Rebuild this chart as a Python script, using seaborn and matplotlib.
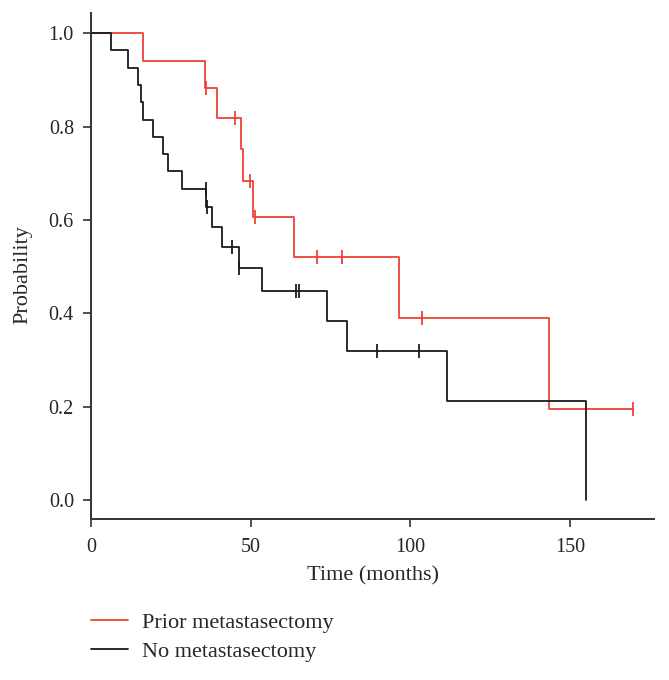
import numpy as np
import pandas as pd
import matplotlib
matplotlib.use("Agg")
import matplotlib.pyplot as plt
import seaborn as sns

# Kaplan-Meier steps (time in months, survival probability)
prior_times = [0, 16.3, 35.6, 39.5, 46.8, 47.7, 50.8, 63.6, 96.5, 143.5, 169.9]
prior_surv = [1.0, 0.941, 0.882, 0.819, 0.751, 0.683, 0.607, 0.520, 0.390, 0.195, 0.195]
prior_censor = [36.0, 45.1, 49.7, 51.3, 70.8, 78.6, 103.6, 169.9]

no_times = [0, 6.2, 11.4, 14.7, 15.6, 16.3, 19.4, 22.6, 24.1, 28.5, 36.0, 37.9,
            41.1, 46.2, 53.6, 73.9, 80.3, 111.5, 155.1]
no_surv = [1.0, 0.963, 0.926, 0.889, 0.852, 0.815, 0.778, 0.741, 0.704, 0.667,
           0.627, 0.585, 0.543, 0.498, 0.448, 0.384, 0.320, 0.213, 0.0]
no_censor = [35.8, 36.2, 44.0, 46.4, 64.1, 65.1, 89.7, 102.7]

groups = ['Prior metastasectomy', 'No metastasectomy']
colors = {'Prior metastasectomy': '#ef4136', 'No metastasectomy': '#1a1a1a'}

df = pd.concat([
    pd.DataFrame({'time': prior_times, 'surv': prior_surv, 'group': groups[0]}),
    pd.DataFrame({'time': no_times, 'surv': no_surv, 'group': groups[1]}),
])

sns.set_style('ticks')
plt.rcParams['font.family'] = ['Liberation Serif', 'DejaVu Serif']

fig = plt.figure(figsize=(6.69, 6.80), dpi=100)
ax = fig.add_axes([0.1365, 0.2368, 0.8411, 0.7442])

sns.lineplot(data=df, x='time', y='surv', hue='group', hue_order=groups,
             palette=colors, drawstyle='steps-post', estimator=None, sort=False,
             linewidth=1.3, ax=ax)


def step_value(times, surv, t):
    idx = np.searchsorted(times, t, side='right') - 1
    return np.array(surv)[idx]


# censored observations as tick marks on the curves
for times, surv, cens, g in [(prior_times, prior_surv, prior_censor, groups[0]),
                              (no_times, no_surv, no_censor, groups[1])]:
    cy = [step_value(times, surv, t) for t in cens]
    ax.plot(cens, cy, ls='none', marker='|', ms=10, mew=1.3, color=colors[g])

ax.set_xlim(0, 176.4)
ax.set_ylim(-0.0407, 1.0435)
ax.set_xticks([0, 50, 100, 150])
ax.set_yticks([0.0, 0.2, 0.4, 0.6, 0.8, 1.0])
ax.set_yticklabels(['0.0', '0.2', '0.4', '0.6', '0.8', '1.0'])
ax.tick_params(labelsize=14.5, length=5.5, width=1.2, color='#333333')
ax.tick_params(axis='x', pad=8)
ax.tick_params(axis='y', pad=7)
ax.set_xlabel('Time (months)', fontsize=16)
ax.set_ylabel('Probability', fontsize=16)
ax.xaxis.set_label_coords(0.5, -0.094)
ax.yaxis.set_label_coords(-0.104, 0.482)
for s in ['left', 'bottom']:
    ax.spines[s].set_color('#333333')
    ax.spines[s].set_linewidth(1.4)
sns.despine(ax=ax)

handles, labels = ax.get_legend_handles_labels()
ax.legend_.remove()
fig.legend(handles, labels, loc='upper left', bbox_to_anchor=(0.136, 0.1),
           borderaxespad=0, borderpad=0, frameon=False, fontsize=16,
           handlelength=1.68, handletextpad=0.6, labelspacing=0.4)

fig.savefig('out.png', dpi=100)
